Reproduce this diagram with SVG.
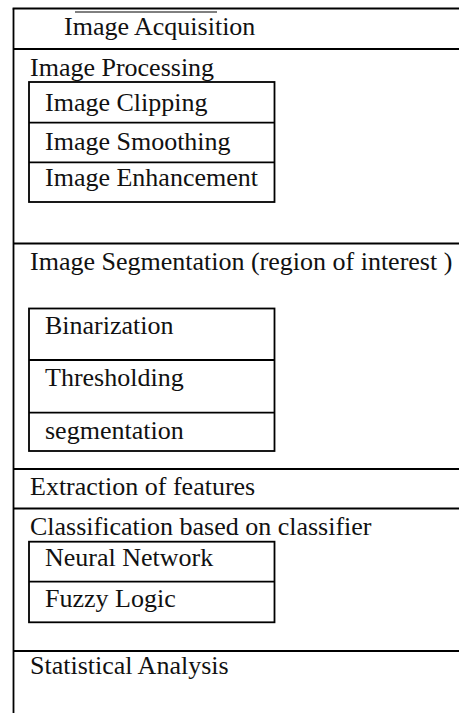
<svg xmlns="http://www.w3.org/2000/svg" width="459" height="713" viewBox="0 0 459 713">
<style>
.ln{stroke:#000;stroke-width:1.8;fill:none}
.bx{stroke:#000;stroke-width:1.8;fill:none}
text{font-family:'Liberation Serif','DejaVu Serif','Times New Roman',Times,serif;font-size:26px;fill:#111}
</style>
<rect width="459" height="713" fill="#fff"/>
<g id="frame">
<line class="ln" x1="13.5" y1="8.5" x2="13.5" y2="713"/>
<line class="ln" x1="12.6" y1="8.5" x2="459" y2="8.5"/>
<line x1="75" y1="12" x2="217" y2="12" stroke="#000" stroke-width="1"/>
<line class="ln" x1="13.5" y1="49" x2="459" y2="49"/>
<line class="ln" x1="13.5" y1="243.5" x2="459" y2="243.5"/>
<line class="ln" x1="13.5" y1="469" x2="459" y2="469"/>
<line class="ln" x1="13.5" y1="508.5" x2="459" y2="508.5"/>
<line class="ln" x1="13.5" y1="651" x2="459" y2="651"/>
</g>
<g id="acquisition">
<text x="64" y="35">Image Acquisition</text>
</g>
<g id="processing">
<text x="30" y="75.5">Image Processing</text>
<rect class="bx" x="29" y="82" width="245.5" height="120"/>
<line class="ln" x1="29" y1="122.7" x2="274.5" y2="122.7"/>
<line class="ln" x1="29" y1="162.3" x2="274.5" y2="162.3"/>
<text x="45" y="111">Image Clipping</text>
<text x="45" y="150">Image Smoothing</text>
<text x="45" y="186">Image Enhancement</text>
</g>
<g id="segmentation">
<text x="30" y="269.5">Image Segmentation (region of interest )</text>
<rect class="bx" x="29" y="308.5" width="245.5" height="142.5"/>
<line class="ln" x1="29" y1="360" x2="274.5" y2="360"/>
<line class="ln" x1="29" y1="412.7" x2="274.5" y2="412.7"/>
<text x="45" y="333.5">Binarization</text>
<text x="45" y="386">Thresholding</text>
<text x="45" y="438.5">segmentation</text>
</g>
<g id="extraction">
<text x="30" y="495">Extraction of features</text>
</g>
<g id="classification">
<text x="30" y="535">Classification based on classifier</text>
<rect class="bx" x="29" y="541.7" width="245.5" height="80.6"/>
<line class="ln" x1="29" y1="581.7" x2="274.5" y2="581.7"/>
<text x="45" y="566">Neural Network</text>
<text x="45" y="606.5">Fuzzy Logic</text>
</g>
<g id="statistical">
<text x="30" y="673.5">Statistical Analysis</text>
</g>
</svg>
